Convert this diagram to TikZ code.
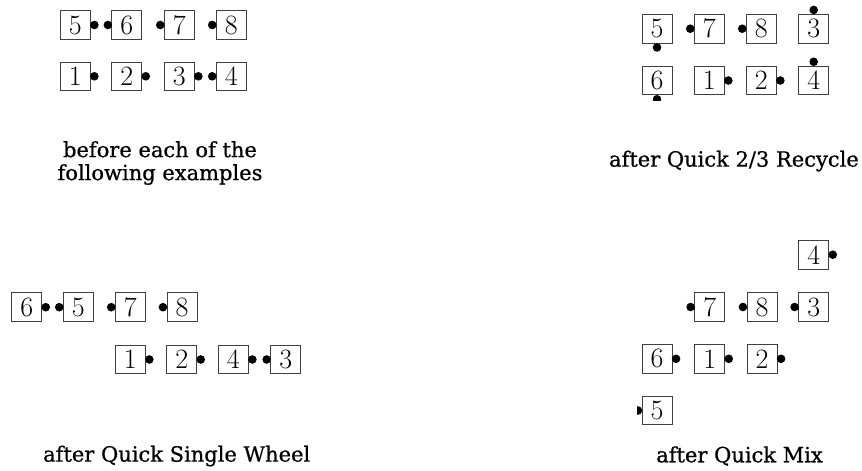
\documentclass[tikz,border=0pt]{standalone}
\usepackage{fontspec}
\newfontfamily\capfont[FakeBold=0.7]{DejaVu Serif}
\tikzset{
  card/.style={draw=black!75, line width=0.9pt, minimum width=30pt, minimum height=28.6pt,
    inner sep=0pt, font=\fontsize{28}{30}\selectfont},
  dotn/.style={circle, fill=black, inner sep=0pt, minimum size=8.6pt},
  caption/.style={font=\capfont\fontsize{21}{23}\selectfont, align=center, inner sep=0pt}
}
\newcommand\dotR[1]{\node[dotn] (#1-d) at ([xshift=3.6pt]#1.east) {};}
\newcommand\dotL[1]{\node[dotn] (#1-d) at ([xshift=-3.6pt]#1.west) {};}
\newcommand\dotU[1]{\node[dotn] (#1-d) at ([yshift=4pt]#1.north) {};}
\newcommand\dotD[1]{\node[dotn] (#1-d) at ([yshift=-4pt]#1.south) {};}
\begin{document}
\begin{tikzpicture}[x=1pt,y=-1pt]
\useasboundingbox[fill=white] (0,0) rectangle (862,471);
% ---- before ----
\node[card] (a5) at (75.3,25) {5};
\node[card] (a6) at (126.9,25) {6};
\node[card] (a7) at (179.3,25) {7};
\node[card] (a8) at (231.3,25) {8};
\node[card] (a1) at (75.3,76.3) {1};
\node[card] (a2) at (126.7,76.3) {2};
\node[card] (a3) at (179.3,76.3) {3};
\node[card] (a4) at (231.3,76.3) {4};
\dotR{a5}\dotL{a6}\dotL{a7}\dotL{a8}
\dotR{a1}\dotR{a2}\dotR{a3}\dotL{a4}
\node[caption] (capA) at (160,163) {before each of the\\following examples};
% ---- 2/3 recycle ----
\node[card] (b5) at (657,28.7) {5};
\node[card] (b7) at (709.3,28.7) {7};
\node[card] (b8) at (761.3,28.7) {8};
\node[card] (b3) at (813.7,28.7) {3};
\node[card] (b6) at (657,80.5) {6};
\node[card] (b1) at (709.3,80.5) {1};
\node[card] (b2) at (761.3,80.5) {2};
\node[card] (b4) at (813.7,80.5) {4};
\begin{scope}
\clip (600,5) rectangle (862,100);
\dotD{b5}\dotL{b7}\dotL{b8}\dotU{b3}
\dotD{b6}\dotR{b1}\dotR{b2}\dotU{b4}
\end{scope}
\node[caption, anchor=east] (capB) at (859,161) {after Quick 2/3 Recycle};
% ---- single wheel ----
\node[card] (c6) at (26.7,307.2) {6};
\node[card] (c5) at (78.3,307.2) {5};
\node[card] (c7) at (130.3,307.2) {7};
\node[card] (c8) at (182,307.2) {8};
\node[card] (c1) at (130.3,359.5) {1};
\node[card] (c2) at (181.7,359.5) {2};
\node[card] (c4) at (233.3,359.5) {4};
\node[card] (c3) at (285.7,359.5) {3};
\dotR{c6}\dotL{c5}\dotL{c7}\dotL{c8}
\dotR{c1}\dotR{c2}\dotR{c4}\dotL{c3}
\node[caption, anchor=west] (capC) at (43,456) {after Quick Single Wheel};
% ---- mix ----
\node[card] (d4) at (813.7,254.7) {4};
\node[card] (d7) at (709.7,307) {7};
\node[card] (d8) at (762,307) {8};
\node[card] (d3) at (813.7,307) {3};
\node[card] (d6) at (657,358.8) {6};
\node[card] (d1) at (709.7,358.8) {1};
\node[card] (d2) at (762,358.8) {2};
\node[card] (d5) at (657,410.5) {5};
\begin{scope}
\clip (637,230) rectangle (862,430);
\dotR{d4}\dotL{d7}\dotL{d8}\dotL{d3}
\dotR{d6}\dotR{d1}\dotR{d2}\dotL{d5}
\end{scope}
\node[caption, anchor=east] (capD) at (823,456) {after Quick Mix};
\end{tikzpicture}
\end{document}
